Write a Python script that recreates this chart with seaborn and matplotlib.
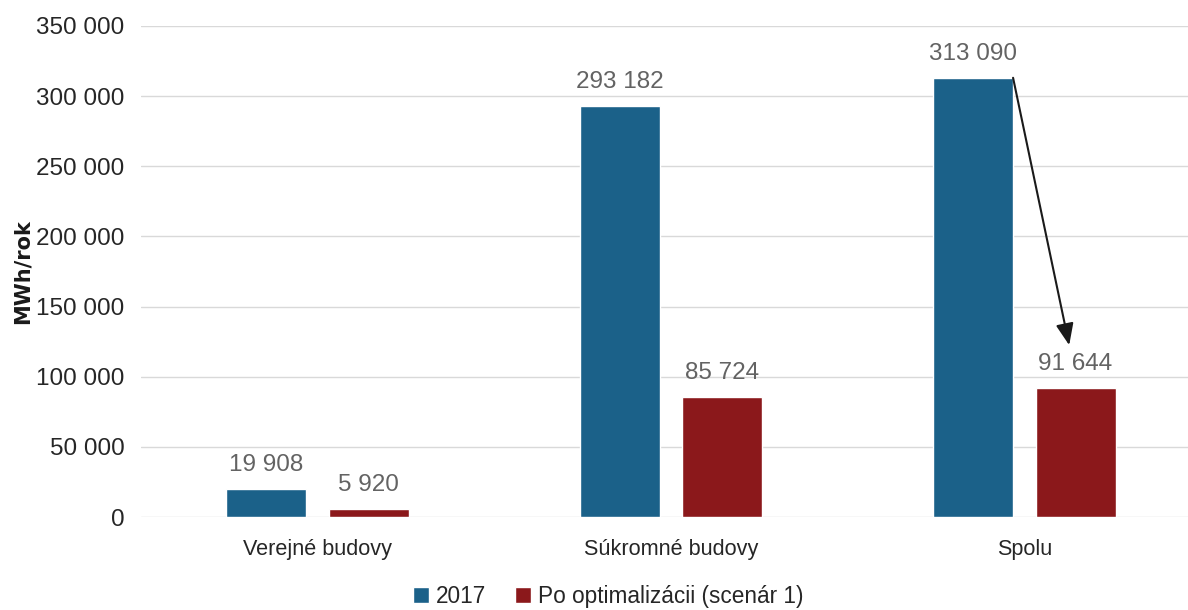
import matplotlib
matplotlib.use("Agg")
import matplotlib.pyplot as plt
from matplotlib.patches import Patch
from matplotlib.ticker import FuncFormatter
import seaborn as sns
import pandas as pd

categories = ["Verejné budovy", "Súkromné budovy", "Spolu"]
series_names = ["2017", "Po optimalizácii (scenár 1)"]
values_2017 = [19908, 293182, 313090]
values_opt = [5920, 85724, 91644]
y_ticks = [0, 50000, 100000, 150000, 200000, 250000, 300000, 350000]
y_label = "MWh/rok"

colors = ["#1B6189", "#8B181B"]

df = pd.DataFrame({
    "kategoria": categories * 2,
    "seria": [series_names[0]] * 3 + [series_names[1]] * 3,
    "hodnota": values_2017 + values_opt,
})

sns.set_theme(style="white")
plt.rcParams["font.family"] = ["Liberation Sans", "DejaVu Sans"]

fig = plt.figure(figsize=(11.88, 6.10), dpi=100)
ax = fig.add_axes([141 / 1188, 1 - 517 / 610, 1060 / 1188, 491 / 610])

sns.barplot(data=df, x="kategoria", y="hodnota", hue="seria",
            order=categories, hue_order=series_names,
            palette=colors, width=0.58, gap=0.22, saturation=1,
            legend=False, ax=ax)

def fmt(v):
    return f"{int(round(v)):,}".replace(",", " ")

for container in ax.containers:
    for bar in container:
        h = bar.get_height()
        ax.annotate(fmt(h), (bar.get_x() + bar.get_width() / 2, h),
                    xytext=(0, 13), textcoords="offset points",
                    ha="center", va="baseline", fontsize=17.5, color="#636363")

ax.set_ylim(0, 350000)
ax.set_xlim(-0.5, 2.5)
ax.set_yticks(y_ticks)
ax.yaxis.set_major_formatter(FuncFormatter(lambda v, p: fmt(v)))
ax.tick_params(axis="both", length=0, colors="#262626")
ax.tick_params(axis="y", pad=12, labelsize=17.5)
ax.tick_params(axis="x", pad=16, labelsize=15.6)
ax.yaxis.grid(True, color="#D9D9D9", linewidth=1)
ax.set_axisbelow(True)
for s in ax.spines.values():
    s.set_visible(False)

ax.set_xlabel("")
ax.set_ylabel(y_label, fontsize=15, fontweight="bold", color="#1A1A1A",
              family="DejaVu Sans")
ax.yaxis.set_label_coords(-0.102, 0.5)

# arrow from the total 2017 bar down to the optimised total
spolu_blue = ax.containers[0][2]
x_start = spolu_blue.get_x() + spolu_blue.get_width()
ax.annotate("", xy=(2.127, 122500), xytext=(x_start, values_2017[2]),
            arrowprops=dict(arrowstyle="-|>,head_length=1.1,head_width=0.45",
                            color="#1A1A1A", lw=1.5, shrinkA=0, shrinkB=0))

handles = [Patch(facecolor=c, label=n) for c, n in zip(colors, series_names)]
fig.legend(handles=handles, loc="lower center", bbox_to_anchor=(0.512, -0.03),
           ncol=2, frameon=False, fontsize=16.3, handlelength=0.7,
           handleheight=0.7, handletextpad=0.3, columnspacing=1.3,
           labelcolor="#262626")

fig.savefig("out.png", dpi=100)
